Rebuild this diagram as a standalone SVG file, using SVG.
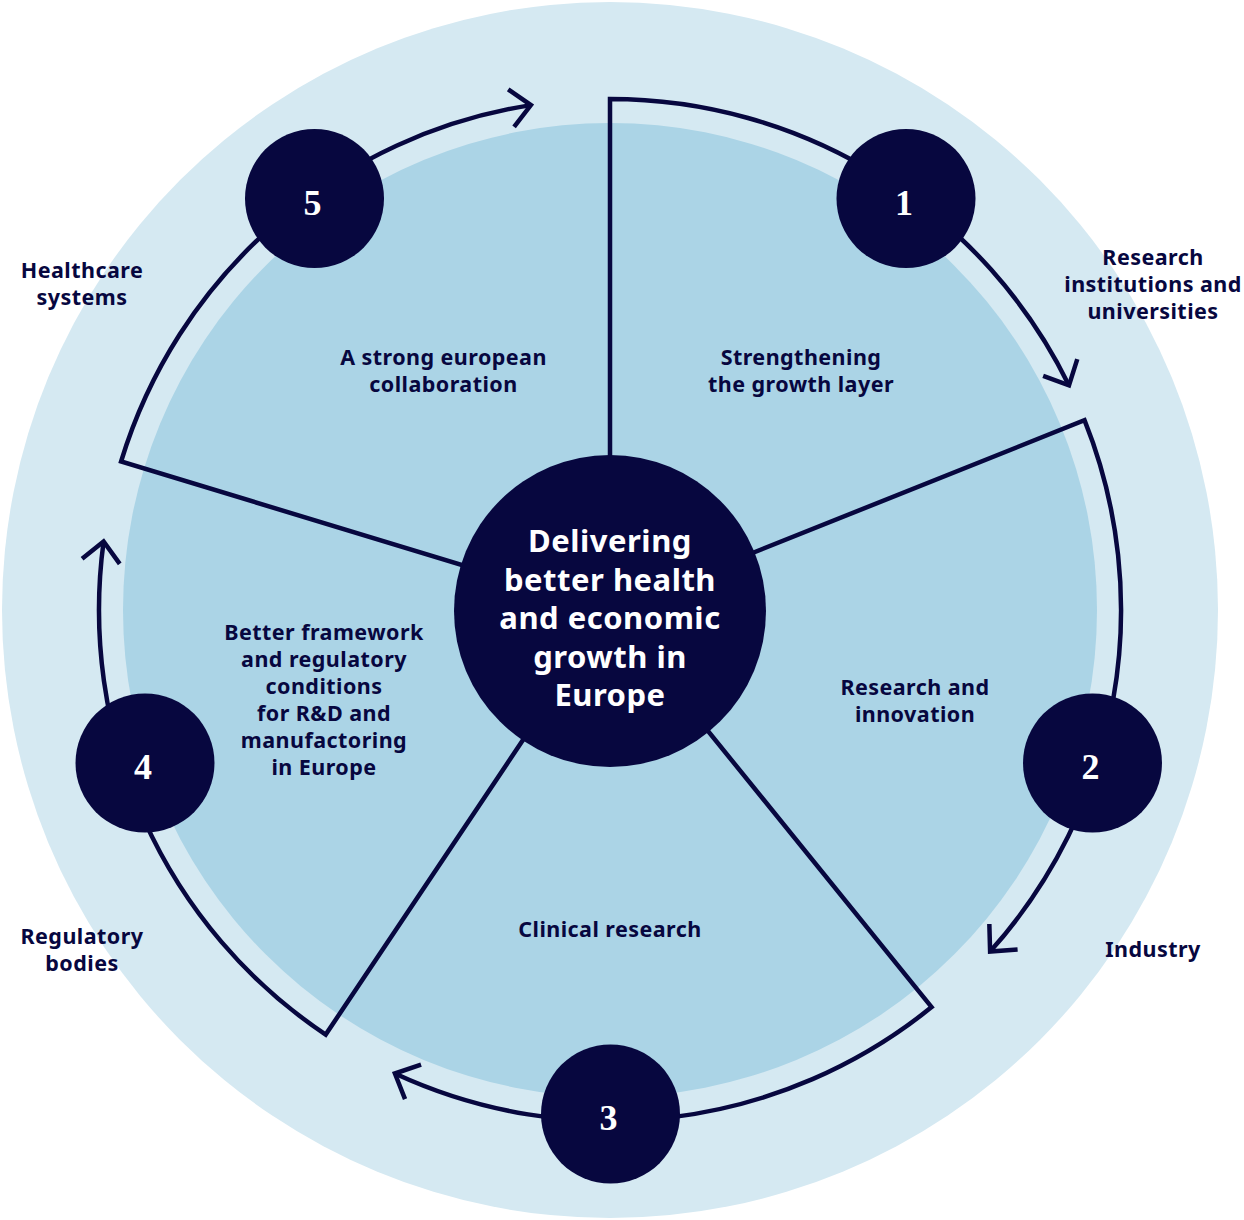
<svg xmlns="http://www.w3.org/2000/svg" width="1244" height="1220" viewBox="0 0 1244 1220">
  <defs>
    <style>
      .ring { fill: none; stroke: #07073f; stroke-width: 4.5; stroke-linejoin: miter; stroke-miterlimit: 10; }
      .dot { fill: #07073f; }
      .num { font-family: "Liberation Serif", "DejaVu Serif", serif; font-weight: bold; font-size: 36px; fill: #ffffff; text-anchor: middle; }
      .lbl { font-family: "Noto Sans", "Open Sans", sans-serif; font-weight: bold; font-size: 21.5px; letter-spacing: 0.45px; fill: #07073f; text-anchor: middle; }
      .hub { font-family: "Noto Sans", "Open Sans", sans-serif; font-weight: bold; font-size: 31px; letter-spacing: 0.5px; fill: #ffffff; text-anchor: middle; }
    </style>
    <!-- open chevron head used at the end of each ring arc -->
    <marker id="chev" markerUnits="userSpaceOnUse" viewBox="-30 -30 60 60" markerWidth="60" markerHeight="60" refX="0" refY="0" orient="auto" overflow="visible">
      <path d="M-20,-19 L0,0 L-20,19" fill="none" stroke="#07073f" stroke-width="4.5" stroke-linejoin="miter"/>
    </marker>
  </defs>

  <!-- background discs -->
  <g id="backdrop">
    <circle cx="610" cy="610" r="608" fill="#d5e9f2"/>
    <circle cx="610" cy="610" r="487" fill="#abd4e6"/>
  </g>

  <!-- spokes and cycle arcs -->
  <g id="connectors">
    <path class="ring" marker-end="url(#chev)" d="M610,610 L610,99 A511,511 0 0 1 1069,385.4"/>
    <path class="ring" marker-end="url(#chev)" d="M610,610 L1084.5,420.2 A511,511 0 0 1 990.1,951.6"/>
    <path class="ring" marker-end="url(#chev)" d="M610,610 L931.6,1007.1 A511,511 0 0 1 394.9,1073.5"/>
    <path class="ring" marker-end="url(#chev)" d="M610,610 L325.7,1034.6 A511,511 0 0 1 103.6,541.5"/>
    <path class="ring" marker-end="url(#chev)" d="M610,610 L121.1,461.5 A511,511 0 0 1 530.9,105.1"/>
  </g>

  <!-- central hub -->
  <g id="hub">
    <circle class="dot" cx="610" cy="611" r="156"/>
    <text class="hub" x="610" y="552">Delivering</text>
    <text class="hub" x="610" y="590.5">better health</text>
    <text class="hub" x="610" y="629">and economic</text>
    <text class="hub" x="610" y="667.5">growth in</text>
    <text class="hub" x="610" y="706">Europe</text>
  </g>

  <!-- numbered stages -->
  <g id="stage-1">
    <circle class="dot" cx="906" cy="198.5" r="69.5"/>
    <text class="num" x="904" y="214.5">1</text>
  </g>
  <g id="stage-2">
    <circle class="dot" cx="1092.5" cy="763" r="69.5"/>
    <text class="num" x="1090.5" y="779">2</text>
  </g>
  <g id="stage-3">
    <circle class="dot" cx="610.5" cy="1114" r="69.5"/>
    <text class="num" x="608.5" y="1130">3</text>
  </g>
  <g id="stage-4">
    <circle class="dot" cx="145" cy="763" r="69.5"/>
    <text class="num" x="143" y="779">4</text>
  </g>
  <g id="stage-5">
    <circle class="dot" cx="314.5" cy="198.5" r="69.5"/>
    <text class="num" x="312.5" y="214.5">5</text>
  </g>

  <!-- sector captions -->
  <g id="sector-growth-layer">
    <text class="lbl" x="801" y="365">Strengthening</text>
    <text class="lbl" x="801" y="392">the growth layer</text>
  </g>
  <g id="sector-research">
    <text class="lbl" x="915" y="695">Research and</text>
    <text class="lbl" x="915" y="722">innovation</text>
  </g>
  <g id="sector-clinical">
    <text class="lbl" x="610" y="937">Clinical research</text>
  </g>
  <g id="sector-framework">
    <text class="lbl" x="324" y="640">Better framework</text>
    <text class="lbl" x="324" y="667">and regulatory</text>
    <text class="lbl" x="324" y="694">conditions</text>
    <text class="lbl" x="324" y="721">for R&amp;D and</text>
    <text class="lbl" x="324" y="748">manufactoring</text>
    <text class="lbl" x="324" y="775">in Europe</text>
  </g>
  <g id="sector-collaboration">
    <text class="lbl" x="443.5" y="365">A strong european</text>
    <text class="lbl" x="443.5" y="392">collaboration</text>
  </g>

  <!-- stakeholder captions outside the ring -->
  <g id="stakeholder-research">
    <text class="lbl" x="1153" y="265">Research</text>
    <text class="lbl" x="1153" y="292">institutions and</text>
    <text class="lbl" x="1153" y="319">universities</text>
  </g>
  <g id="stakeholder-industry">
    <text class="lbl" x="1153" y="957">Industry</text>
  </g>
  <g id="stakeholder-regulatory">
    <text class="lbl" x="82" y="944">Regulatory</text>
    <text class="lbl" x="82" y="971">bodies</text>
  </g>
  <g id="stakeholder-healthcare">
    <text class="lbl" x="82" y="278">Healthcare</text>
    <text class="lbl" x="82" y="305">systems</text>
  </g>
</svg>
